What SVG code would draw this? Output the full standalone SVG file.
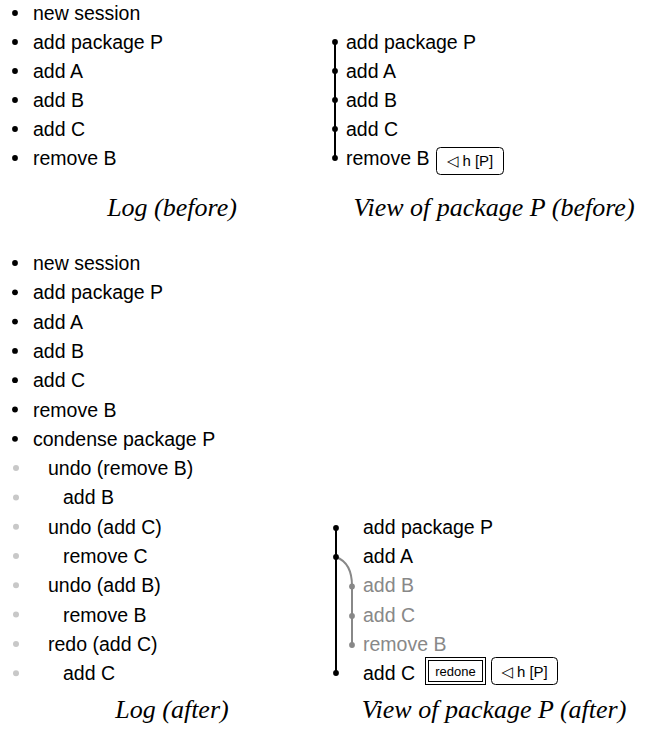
<svg xmlns="http://www.w3.org/2000/svg" width="648" height="740" viewBox="0 0 648 740">
<style>
  .t { font-family: "Liberation Sans", Arial, sans-serif; font-size: 19.5px; fill: #000; }
  .g { fill: #888; }
  .cap { font-family: "Liberation Serif", "Times New Roman", serif; font-style: italic; font-size: 26px; fill: #000; text-anchor: middle; }
  .bk { fill: #000; }
  .bl { fill: #c8c8c8; }
  .box { fill: #fff; stroke: #000; stroke-width: 1; }
  .bt { font-family: "Liberation Sans", "DejaVu Sans", sans-serif; font-size: 15px; fill: #000; text-anchor: middle; }
  .tri { font-family: "DejaVu Sans", sans-serif; font-size: 15px; }
  .rt { font-family: "Liberation Sans", Arial, sans-serif; font-size: 13px; fill: #000; text-anchor: middle; }
  .ln { stroke: #000; stroke-width: 2; fill: none; }
  .lg { stroke: #888; stroke-width: 2; fill: none; }
</style>
<rect width="648" height="740" fill="#fff"/>

<!-- Log (before) -->
<g id="log-before">
  <circle class="bk" cx="15" cy="13" r="2.9"/><text class="t" x="33" y="20">new session</text>
  <circle class="bk" cx="15" cy="42" r="2.9"/><text class="t" x="33" y="49">add package P</text>
  <circle class="bk" cx="15" cy="71" r="2.9"/><text class="t" x="33" y="78">add A</text>
  <circle class="bk" cx="15" cy="100" r="2.9"/><text class="t" x="33" y="107">add B</text>
  <circle class="bk" cx="15" cy="129" r="2.9"/><text class="t" x="33" y="136">add C</text>
  <circle class="bk" cx="15" cy="158" r="2.9"/><text class="t" x="33" y="165">remove B</text>
  <text class="cap" x="172" y="216">Log (before)</text>
</g>

<!-- View before -->
<g id="view-before-connectors">
  <line class="ln" x1="335" y1="42" x2="335" y2="158"/>
</g>
<g id="view-before">
  <g id="vb-addP"><circle class="bk" cx="335" cy="42" r="2.9"/><text class="t" x="346" y="49">add package P</text></g>
  <g id="vb-addA"><circle class="bk" cx="335" cy="71" r="2.9"/><text class="t" x="346" y="78">add A</text></g>
  <g id="vb-addB"><circle class="bk" cx="335" cy="100" r="2.9"/><text class="t" x="346" y="107">add B</text></g>
  <g id="vb-addC"><circle class="bk" cx="335" cy="129" r="2.9"/><text class="t" x="346" y="136">add C</text></g>
  <g id="vb-removeB"><circle class="bk" cx="335" cy="158" r="2.9"/><text class="t" x="346" y="165">remove B</text>
    <rect class="box" x="436.5" y="147.5" width="67" height="27" rx="4"/>
    <text class="bt" x="470" y="166"><tspan class="tri">◁</tspan> h [P]</text>
  </g>
  <text class="cap" x="494" y="216">View of package P (before)</text>
</g>

<!-- Log (after) -->
<g id="log-after">
  <circle class="bk" cx="15" cy="263" r="2.9"/><text class="t" x="33" y="270">new session</text>
  <circle class="bk" cx="15" cy="292.3" r="2.9"/><text class="t" x="33" y="299.3">add package P</text>
  <circle class="bk" cx="15" cy="321.6" r="2.9"/><text class="t" x="33" y="328.6">add A</text>
  <circle class="bk" cx="15" cy="350.9" r="2.9"/><text class="t" x="33" y="357.9">add B</text>
  <circle class="bk" cx="15" cy="380.2" r="2.9"/><text class="t" x="33" y="387.2">add C</text>
  <circle class="bk" cx="15" cy="409.5" r="2.9"/><text class="t" x="33" y="416.5">remove B</text>
  <circle class="bk" cx="15" cy="438.8" r="2.9"/><text class="t" x="33" y="445.8">condense package P</text>
  <circle class="bl" cx="16" cy="468.1" r="3"/><text class="t" x="48" y="475.1">undo (remove B)</text>
  <circle class="bl" cx="16" cy="497.4" r="3"/><text class="t" x="63" y="504.4">add B</text>
  <circle class="bl" cx="16" cy="526.7" r="3"/><text class="t" x="48" y="533.7">undo (add C)</text>
  <circle class="bl" cx="16" cy="556" r="3"/><text class="t" x="63" y="563">remove C</text>
  <circle class="bl" cx="16" cy="585.3" r="3"/><text class="t" x="48" y="592.3">undo (add B)</text>
  <circle class="bl" cx="16" cy="614.6" r="3"/><text class="t" x="63" y="621.6">remove B</text>
  <circle class="bl" cx="16" cy="643.9" r="3"/><text class="t" x="48" y="650.9">redo (add C)</text>
  <circle class="bl" cx="16" cy="673.2" r="3"/><text class="t" x="63" y="680.2">add C</text>
  <text class="cap" x="172" y="718">Log (after)</text>
</g>

<!-- View after -->
<g id="view-after-connectors">
  <line class="ln" x1="336" y1="528" x2="336" y2="673"/>
  <path class="lg" d="M336,557 C347,561 352,572 352,586"/>
  <line class="lg" x1="352" y1="586" x2="352" y2="645"/>
</g>
<g id="view-after">
  <g id="va-addP"><circle class="bk" cx="336" cy="528" r="2.9"/><text class="t" x="363" y="533.7">add package P</text></g>
  <g id="va-addA"><circle class="bk" cx="336" cy="557" r="2.9"/><text class="t" x="363" y="563">add A</text></g>
  <g id="va-addB"><circle fill="#888" cx="352" cy="586.5" r="2.9"/><text class="t g" x="363" y="592.3">add B</text></g>
  <g id="va-addC"><circle fill="#888" cx="352" cy="616" r="2.9"/><text class="t g" x="363" y="621.6">add C</text></g>
  <g id="va-removeB"><circle fill="#888" cx="352" cy="645" r="2.9"/><text class="t g" x="363" y="650.9">remove B</text></g>
  <g id="va-addC2"><circle class="bk" cx="336" cy="673" r="2.9"/><text class="t" x="363" y="680.2">add C</text>
    <rect class="box" x="425.5" y="657.5" width="60" height="27"/>
    <rect class="box" x="428.5" y="660.5" width="54" height="21"/>
    <text class="rt" x="455.5" y="676">redone</text>
    <rect class="box" x="491.5" y="657.5" width="66" height="27" rx="4"/>
    <text class="bt" x="524.5" y="676.5"><tspan class="tri">◁</tspan> h [P]</text>
  </g>
  <text class="cap" x="494" y="718">View of package P (after)</text>
</g>
</svg>
